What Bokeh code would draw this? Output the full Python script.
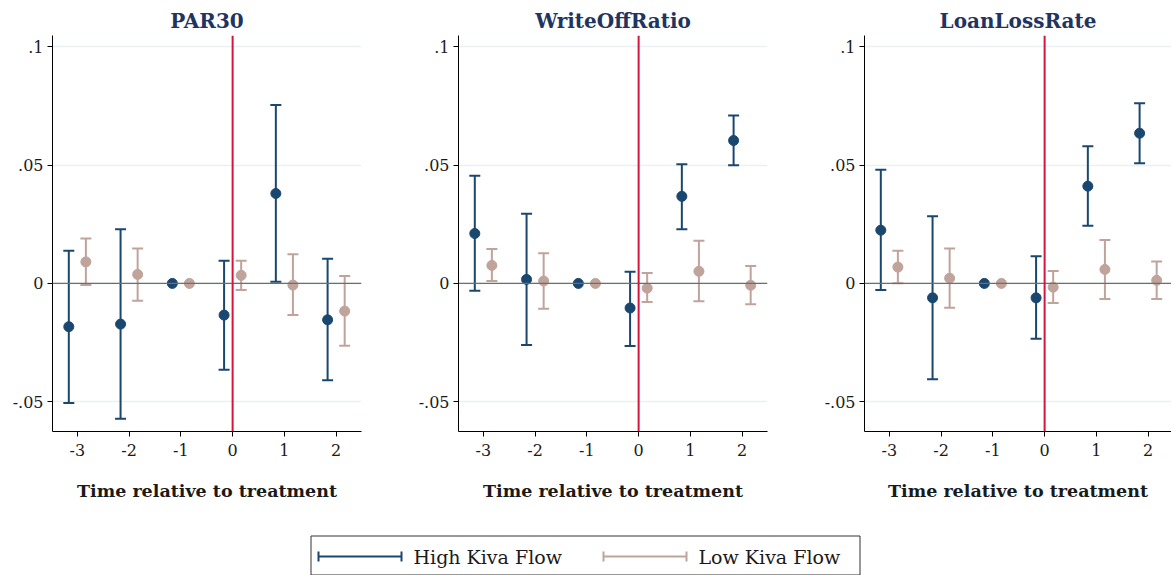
from bokeh.plotting import figure
from bokeh.models import ColumnDataSource, Whisker, TeeHead, Span, Range1d, FixedTicker
from bokeh.layouts import column, row
from bokeh.embed import file_html
from bokeh.resources import INLINE
from bokeh.core.properties import value

FONT = "DejaVu Serif"

times = [-3, -2, -1, 0, 1, 2]
panel_titles = ["PAR30", "WriteOffRatio", "LoanLossRate"]
series_names = ["High Kiva Flow", "Low Kiva Flow"]

# point estimates and 95% CI bounds (None = reference period, no CI)
par30_high = [-0.0183, -0.0172, 0.0, -0.0134, 0.0380, -0.0154]
par30_high_lo = [-0.0506, -0.0572, None, -0.0365, 0.0007, -0.0409]
par30_high_hi = [0.0138, 0.0229, None, 0.0096, 0.0754, 0.0104]
par30_low = [0.0091, 0.0038, 0.0, 0.0034, -0.0007, -0.0117]
par30_low_lo = [-0.0007, -0.0073, None, -0.0028, -0.0133, -0.0264]
par30_low_hi = [0.0190, 0.0148, None, 0.0096, 0.0123, 0.0031]

wor_high = [0.0211, 0.0017, 0.0, -0.0104, 0.0368, 0.0604]
wor_high_lo = [-0.0031, -0.0260, None, -0.0265, 0.0229, 0.0499]
wor_high_hi = [0.0455, 0.0294, None, 0.0049, 0.0504, 0.0710]
wor_low = [0.0076, 0.0010, 0.0, -0.0020, 0.0051, -0.0008]
wor_low_lo = [0.0010, -0.0107, None, -0.0079, -0.0075, -0.0088]
wor_low_hi = [0.0145, 0.0127, None, 0.0044, 0.0180, 0.0074]

llr_high = [0.0225, -0.0061, 0.0, -0.0061, 0.0411, 0.0635]
llr_high_lo = [-0.0028, -0.0405, None, -0.0234, 0.0244, 0.0508]
llr_high_hi = [0.0480, 0.0284, None, 0.0115, 0.0580, 0.0762]
llr_low = [0.0069, 0.0022, 0.0, -0.0016, 0.0059, 0.0013]
llr_low_lo = [0.0001, -0.0103, None, -0.0083, -0.0066, -0.0066]
llr_low_hi = [0.0138, 0.0148, None, 0.0053, 0.0184, 0.0093]

y_ticks = [-0.05, 0, 0.05, 0.1]
y_tick_labels = ["-.05", "0", ".05", ".1"]

HIGH = "#1a476f"
LOW = "#c0a39b"
RED = "#d5153d"
TITLE_C = "#1f3461"

panels = [
    (par30_high, par30_high_lo, par30_high_hi, par30_low, par30_low_lo, par30_low_hi),
    (wor_high, wor_high_lo, wor_high_hi, wor_low, wor_low_lo, wor_low_hi),
    (llr_high, llr_high_lo, llr_high_hi, llr_low, llr_low_lo, llr_low_hi),
]

OFF = 0.165
figs = []
for i, (title, data) in enumerate(zip(panel_titles, panels)):
    last = i == 2
    fw = 307 if last else 309
    xend = -3.48 + fw / 51.76
    p = figure(width=360 if last else 406, height=520,
               frame_width=fw, frame_height=396,
               min_border_left=52, min_border_right=0 if last else 45,
               min_border_top=35, min_border_bottom=89,
               x_range=Range1d(-3.48, xend), y_range=Range1d(-0.0626, 0.1048),
               output_backend="svg", toolbar_location=None, title=title)
    p.title.align = "center"
    p.title.text_font = FONT
    p.title.text_font_style = "bold"
    p.title.text_font_size = "20px"
    p.title.text_color = TITLE_C
    p.title.offset = 0
    p.title.standoff = 6
    p.outline_line_color = None
    p.background_fill_color = "white"
    p.border_fill_color = "white"

    p.xgrid.visible = False
    p.ygrid.ticker = FixedTicker(ticks=y_ticks)
    p.ygrid.grid_line_color = "#eaf1f4"
    p.ygrid.grid_line_width = 1.5

    p.yaxis.ticker = FixedTicker(ticks=y_ticks)
    p.yaxis.major_label_overrides = {t: l for t, l in zip(y_ticks, y_tick_labels)}
    p.xaxis.ticker = FixedTicker(ticks=times)
    p.xaxis.major_label_overrides = {t: str(t) for t in times}
    p.xaxis.axis_label = "Time relative to treatment"
    for ax in (p.xaxis, p.yaxis):
        ax.axis_line_color = "black"
        ax.axis_line_width = 1
        ax.major_tick_line_color = "black"
        ax.major_tick_in = 0
        ax.major_tick_out = 5
        ax.minor_tick_line_color = None
        ax.major_label_text_font = FONT
        ax.major_label_text_font_size = "16px"
        ax.major_label_text_color = "#1a1a1a"
    p.xaxis.major_label_standoff = 7
    p.yaxis.major_label_standoff = 4
    p.xaxis.axis_label_text_font = FONT
    p.xaxis.axis_label_text_font_style = "bold"
    p.xaxis.axis_label_text_font_size = "17.5px"
    p.xaxis.axis_label_text_color = "#1a1a1a"
    p.xaxis.axis_label_standoff = 22

    p.add_layout(Span(location=0, dimension="width", line_color="#6e6e6e", line_width=1.2))
    p.add_layout(Span(location=0, dimension="height", line_color=RED, line_width=2))

    hi, hi_lo, hi_hi, lo, lo_lo, lo_hi = data
    for vals, lows, highs, color, off in ((hi, hi_lo, hi_hi, HIGH, -OFF), (lo, lo_lo, lo_hi, LOW, OFF)):
        xs = [t + off for t in times]
        idx = [k for k in range(len(times)) if lows[k] is not None]
        wsrc = ColumnDataSource(dict(x=[xs[k] for k in idx], lower=[lows[k] for k in idx],
                                     upper=[highs[k] for k in idx]))
        w = Whisker(source=wsrc, base="x", lower="lower", upper="upper", dimension="height",
                    line_color=color, line_width=2,
                    upper_head=TeeHead(size=11, line_color=color, line_width=2),
                    lower_head=TeeHead(size=11, line_color=color, line_width=2))
        p.add_layout(w)
        psrc = ColumnDataSource(dict(x=xs, y=vals))
        p.scatter("x", "y", source=psrc, size=10, fill_color=color, line_color=color)
    figs.append(p)

# legend strip
lg = figure(width=1172, height=55, x_range=Range1d(0, 1172), y_range=Range1d(55, 0),
            output_backend="svg", toolbar_location=None,
            min_border=0, min_border_left=0, min_border_right=0, min_border_top=0, min_border_bottom=0)
lg.axis.visible = False
lg.grid.visible = False
lg.outline_line_color = None
lg.quad(left=[310.5], right=[859.5], top=[15.5], bottom=[54.5], fill_color="white",
        line_color="#333333", line_width=1)
item_x = [318, 603]
for (x0, name, color) in zip(item_x, series_names, [HIGH, LOW]):
    lg.segment(x0=[x0], y0=[36], x1=[x0 + 83], y1=[36], line_color=color, line_width=2)
    lg.segment(x0=[x0, x0 + 83], y0=[31, 31], x1=[x0, x0 + 83], y1=[41, 41], line_color=color, line_width=2)
    lg.text(x=[x0 + 95], y=[36], text=[name], text_font=value(FONT), text_font_size="19px",
            text_baseline="middle", text_align="left", text_color="#1a1a1a")

layout = column(row(*figs, spacing=0), lg, spacing=0)
open("out.html", "w").write(file_html(layout, INLINE))
